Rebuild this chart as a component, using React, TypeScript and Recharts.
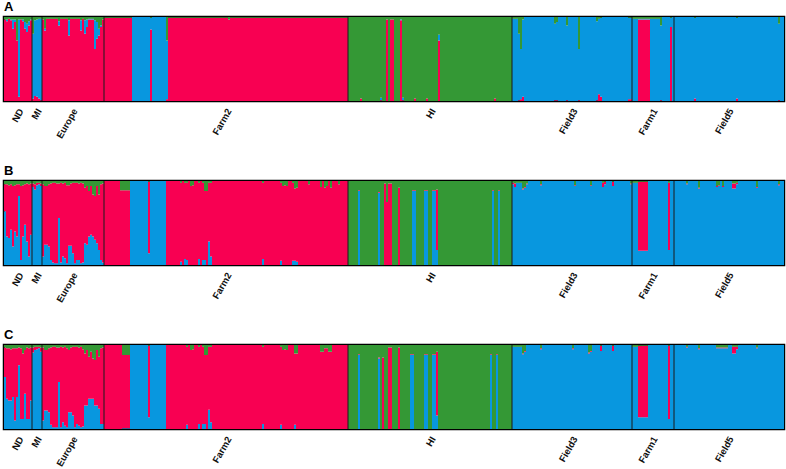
import React from "react";
import { BarChart, Bar, XAxis, YAxis, ReferenceLine, ReferenceArea } from "recharts";

// each run: [individuals, red, blue, green] ancestry proportions
type Run = [number, number, number, number];

const populations = ["ND", "MI", "Europe", "Farm2", "HI", "Field3", "Farm1", "Field5"];
const popSizes = [14, 5, 31, 122, 82, 60, 21, 55];
const panelLetters = ["A", "B", "C"];

const runsA: Run[][] = [
  // ND
  [[1, .97, 0, .03], [1, .95, .02, .03], [1, .98, 0, .02], [1, .96, .01, .03], [1, .86, .11, .03], [1, .94, .03, .03], [1, .72, 0, .28],
   [1, .05, .92, .03], [1, .97, 0, .03], [1, .95, .02, .03], [1, .86, .08, .06], [1, .82, .1, .08], [1, .9, .05, .05], [1, .96, .01, .03]],
  // MI
  [[1, .03, .77, .2], [1, .06, .9, .04], [1, .05, .92, .03], [1, .03, .95, .02], [1, .01, .97, .02]],
  // Europe
  [[1, .97, 0, .03], [1, .84, .02, .14], [6, .98, 0, .02], [1, .9, .05, .05], [4, .98, 0, .02], [1, .78, .18, .04], [5, .98, 0, .02],
   [1, .84, .12, .04], [1, .98, 0, .02], [1, .8, .16, .04], [1, .88, .09, .03], [3, .97, .01, .02], [1, .62, .34, .04], [1, .74, .2, .06],
   [1, .78, .08, .14], [1, .88, .02, .1], [1, .97, 0, .03]],
  // Farm2
  [[14, .99, 0, .01], [9, 0, 1, 0], [1, .85, .14, .01], [7, 0, 1, 0], [1, .02, .7, .28], [30, .99, 0, .01], [1, .97, 0, .03],
   [59, .99, 0, .01]],
  // HI
  [[6, 0, 0, 1], [1, .03, 0, .97], [9, 0, 0, 1], [1, .01, .03, .96], [2, 0, 0, 1], [1, .97, 0, .03], [1, 0, 0, 1],
   [2, .97, 0, .03], [3, 0, 0, 1], [1, .96, .01, .03], [1, .01, .03, .96], [5, 0, 0, 1], [1, .03, 0, .97], [5, 0, 0, 1],
   [1, .03, 0, .97], [5, 0, 0, 1], [1, .72, .07, .21], [27, 0, 0, 1], [1, .03, 0, .97], [8, 0, 0, 1]],
  // Field3
  [[3, 0, .98, .02], [1, .01, .79, .2], [1, .02, .6, .38], [1, .05, .92, .03], [15, 0, 1, 0], [1, .01, .91, .08], [1, .01, .93, .06],
   [4, 0, 1, 0], [1, .01, .89, .1], [5, 0, 1, 0], [1, .01, .61, .38], [8, 0, 1, 0], [1, .01, .94, .05], [1, .08, .9, .02],
   [1, .05, .94, .01], [13, 0, 1, 0], [1, .02, .97, .01], [1, .02, .97, .01]],
  // Farm1
  [[3, 0, .98, .02], [6, .97, .01, .02], [5, 0, .98, .02], [1, .01, .89, .1], [4, 0, 1, 0], [1, .88, .11, .01], [1, 0, 1, 0]],
  // Field5
  [[10, 0, 1, 0], [1, .03, .96, .01], [20, 0, 1, 0], [1, .03, .96, .01], [20, 0, 1, 0], [1, .01, .91, .08], [2, 0, 1, 0]],
];

const runsB: Run[][] = [
  // ND
  [[1, .32, .64, .04], [1, .62, .34, .04], [1, .63, .32, .05], [1, .54, .42, .04], [1, .72, .22, .06], [1, .55, .4, .05], [1, .62, .34, .04],
   [1, .14, .82, .04], [1, .88, .06, .06], [1, .61, .34, .05], [1, .48, .48, .04], [1, .69, .28, .03], [1, .86, .1, .04], [1, .61, .36, .03]],
  // MI
  [[1, .04, .93, .03], [1, .06, .9, .04], [1, .03, .95, .02], [1, .02, .96, .02], [1, .03, .94, .03]],
  // Europe
  [[1, .86, .1, .04], [1, .7, .24, .06], [1, .7, .24, .06], [1, .74, .22, .04], [1, .91, .06, .03], [1, .95, .03, .02], [1, .96, .02, .02],
   [1, .95, .02, .03], [1, .41, .56, .03], [1, .95, .03, .02], [1, .87, .1, .03], [1, .9, .08, .02], [1, .93, .02, .05], [1, .72, .23, .05],
   [1, .74, .23, .03], [1, .84, .14, .02], [1, .96, .02, .02], [1, .92, .06, .02], [1, .91, .06, .03], [1, .96, .02, .02], [1, .94, .03, .03],
   [1, .66, .26, .08], [1, .7, .24, .06], [1, .54, .34, .12], [1, .58, .36, .06], [1, .5, .34, .16], [1, .52, .3, .18], [1, .68, .26, .06],
   [1, .66, .18, .16], [1, .9, .06, .04], [1, .94, .03, .03]],
  // Farm2
  [[8, 1, 0, 0], [5, .89, 0, .11], [9, 0, 1, 0], [1, .85, .14, .01], [8, 0, 1, 0], [7, 1, 0, 0], [1, .94, .04, .02],
   [1, 1, 0, 0], [1, .91, .07, .02], [1, .92, .06, .02], [1, 1, 0, 0], [1, .94, 0, .06], [1, .95, 0, .05], [2, 1, 0, 0],
   [1, .91, .07, .02], [1, 1, 0, 0], [1, .92, .06, .02], [1, .82, .06, .12], [1, .88, 0, .12], [1, .7, .28, .02], [1, .88, .1, .02],
   [25, 1, 0, 0], [1, .91, .07, .02], [8, 1, 0, 0], [1, .93, .05, .02], [1, .94, 0, .06], [1, .95, 0, .05], [1, .94, 0, .06],
   [2, 1, 0, 0], [1, .93, .05, .02], [1, .86, .05, .09], [1, .88, .04, .08], [5, 1, 0, 0], [1, .96, 0, .04], [5, 1, 0, 0],
   [1, .93, 0, .07], [1, 1, 0, 0], [1, .92, 0, .08], [1, .94, 0, .06], [1, 1, 0, 0], [1, .92, 0, .08], [3, 1, 0, 0],
   [1, .96, 0, .04], [4, 1, 0, 0]],
  // HI
  [[5, 0, 0, 1], [1, .01, .88, .11], [9, 0, 0, 1], [1, .01, .86, .13], [2, 0, 0, 1], [1, .97, 0, .03], [1, .75, 0, .25],
   [2, .97, 0, .03], [3, 0, 0, 1], [1, .92, 0, .08], [6, 0, 0, 1], [2, .01, .88, .11], [4, 0, 0, 1], [2, .01, .88, .11],
   [2, 0, 0, 1], [2, .01, .88, .11], [1, .72, .18, .1], [27, 0, 0, 1], [1, .01, .88, .11], [2, 0, 0, 1], [1, .01, .88, .11],
   [6, 0, 0, 1]],
  // Field3
  [[1, .02, .96, .02], [1, .04, .93, .03], [3, 0, .98, .02], [1, .01, .9, .09], [1, .01, .92, .07], [1, .01, .96, .03], [6, 0, 1, 0],
   [1, .01, .95, .04], [16, 0, 1, 0], [1, .01, .94, .05], [7, 0, 1, 0], [1, .01, .94, .05], [5, 0, 1, 0], [1, .05, .93, .02],
   [1, .03, .96, .01], [3, 0, 1, 0], [1, .05, .94, .01], [8, 0, 1, 0], [1, .01, .96, .03]],
  // Farm1
  [[3, 0, .98, .02], [5, .82, .17, .01], [10, 0, 1, 0], [1, .8, .18, .02], [2, 0, 1, 0]],
  // Field5
  [[6, 0, 1, 0], [1, .01, .96, .03], [5, 0, 1, 0], [1, .01, .91, .08], [8, 0, 1, 0], [1, .01, .93, .06], [1, .01, .94, .05],
   [1, 0, 1, 0], [1, .01, .93, .06], [2, 0, 1, 0], [2, 0, 1, 0], [2, .06, .91, .03], [1, .02, .96, .02], [9, 0, 1, 0],
   [1, .01, .92, .07], [10, 0, 1, 0], [1, .01, .95, .04], [2, 0, 1, 0]],
];

const runsC: Run[][] = [
  // ND
  [[1, .35, .62, .03], [1, .6, .36, .04], [1, .62, .34, .04], [1, .61, .34, .05], [1, .58, .38, .04], [1, .86, .1, .04], [1, .58, .38, .04],
   [1, .21, .76, .03], [1, .84, .12, .04], [1, .78, .12, .1], [1, .52, .42, .06], [1, .85, .12, .03], [1, .84, .12, .04], [1, .63, .34, .03]],
  // MI
  [[1, .06, .91, .03], [1, .04, .94, .02], [1, .03, .95, .02], [1, .02, .96, .02], [1, .05, .92, .03]],
  // Europe
  [[1, .87, .1, .03], [1, .72, .22, .06], [1, .72, .22, .06], [1, .76, .2, .04], [1, .92, .05, .03], [1, .96, .02, .02], [1, .96, .02, .02],
   [1, .95, .02, .03], [1, .41, .56, .03], [1, .96, .02, .02], [1, .89, .08, .03], [1, .94, .04, .02], [1, .94, .02, .04], [1, .74, .2, .06],
   [1, .77, .2, .03], [1, .82, .16, .02], [1, .96, .02, .02], [1, .92, .06, .02], [1, .93, .04, .03], [1, .96, .02, .02], [1, .92, .03, .05],
   [1, .62, .28, .1], [1, .66, .28, .06], [1, .5, .36, .14], [1, .56, .36, .08], [1, .48, .36, .16], [1, .54, .28, .18], [1, .66, .28, .06],
   [1, .62, .24, .14], [1, .9, .06, .04], [1, .91, .06, .03]],
  // Farm2
  [[9, 1, 0, 0], [4, .87, .01, .12], [9, 0, 1, 0], [1, .85, .14, .01], [8, 0, 1, 0], [10, 1, 0, 0], [1, .93, .05, .02],
   [1, 1, 0, 0], [1, .94, 0, .06], [1, .95, 0, .05], [2, 1, 0, 0], [1, .92, .06, .02], [1, 1, 0, 0], [1, .92, .06, .02],
   [1, .82, .06, .12], [1, .88, 0, .12], [1, .75, .23, .02], [1, .9, .08, .02], [25, 1, 0, 0], [1, .92, .06, .02], [8, 1, 0, 0],
   [1, .93, .05, .02], [1, .94, 0, .06], [1, .95, 0, .05], [1, .94, 0, .06], [3, 1, 0, 0], [1, .85, .05, .1], [1, .9, 0, .1],
   [11, 1, 0, 0], [1, .92, 0, .08], [1, .92, 0, .08], [1, .96, 0, .04], [1, .96, 0, .04], [1, .92, 0, .08], [1, .92, 0, .08],
   [8, 1, 0, 0]],
  // HI
  [[5, 0, 0, 1], [1, .01, .88, .11], [9, 0, 0, 1], [1, .01, .84, .15], [1, 0, 0, 1], [1, .85, 0, .15], [2, 0, 0, 1],
   [2, .97, 0, .03], [3, 0, 0, 1], [1, .97, 0, .03], [5, 0, 0, 1], [2, .01, .88, .11], [5, 0, 0, 1], [2, .01, .88, .11],
   [2, 0, 0, 1], [2, .01, .88, .11], [1, .76, .16, .08], [26, 0, 0, 1], [1, .01, .88, .11], [2, 0, 0, 1], [1, .01, .88, .11],
   [7, 0, 0, 1]],
  // Field3
  [[5, 0, .98, .02], [1, .01, .89, .1], [1, .01, .92, .07], [7, 0, 1, 0], [1, .01, .95, .04], [15, 0, 1, 0], [1, .01, .95, .04],
   [7, 0, 1, 0], [1, .01, .9, .09], [1, .01, .92, .07], [4, 0, 1, 0], [1, .06, .93, .01], [5, 0, 1, 0], [1, .06, .93, .01],
   [9, 0, 1, 0]],
  // Farm1
  [[3, 0, .98, .02], [5, .85, .14, .01], [10, 0, 1, 0], [1, .87, .12, .01], [2, 0, 1, 0]],
  // Field5
  [[6, 0, 1, 0], [1, .01, .97, .02], [5, 0, 1, 0], [1, .01, .95, .04], [8, 0, 1, 0], [6, .01, .96, .03], [2, 0, 1, 0],
   [2, .08, .9, .02], [1, .03, .95, .02], [9, 0, 1, 0], [1, .01, .96, .03], [13, 0, 1, 0]],
];

const RED = "#F80052";
const BLUE = "#0897DF";
const GREEN = "#349835";

type Row = { id: number; red: number; blue: number; green: number };

function expand(runs: Run[][]): Row[] {
  const rows: Row[] = [];
  runs.forEach((pop) =>
    pop.forEach(([n, red, blue, green]) => {
      for (let i = 0; i < n; i++) rows.push({ id: rows.length, red, blue, green });
    })
  );
  return rows;
}

const popStarts = popSizes.map((_, i) => popSizes.slice(0, i).reduce((a, b) => a + b, 0));
const tickIds = popStarts.map((s, i) => s + Math.floor(popSizes[i] / 2));
const labelAt = new Map(tickIds.map((id, i) => [id, populations[i]]));

const PopTick = (props: any) => {
  const { x, y, payload } = props;
  const tx = x + 5;
  const ty = y + 2;
  return (
    <text
      x={tx}
      y={ty}
      transform={`rotate(-60, ${tx}, ${ty})`}
      textAnchor="end"
      fontSize={9.5}
      fontWeight="bold"
      fontFamily="'Liberation Sans', Arial, sans-serif"
      fill="#111"
    >
      {labelAt.get(payload.value)}
    </text>
  );
};

const panels = [
  { runs: runsA, order: ["red", "blue", "green"], top: 0 },
  { runs: runsB, order: ["blue", "red", "green"], top: 164 },
  { runs: runsC, order: ["blue", "red", "green"], top: 328 },
];

const colorOf: Record<string, string> = { red: RED, blue: BLUE, green: GREEN };

function Panel({ runs, order, top, letter }: { runs: Run[][]; order: string[]; top: number; letter: string }) {
  const data = expand(runs);
  return (
    <div style={{ position: "absolute", left: 0, top, width: 786, height: 152 }}>
      <div
        style={{
          position: "absolute",
          left: 4,
          top: 0,
          fontFamily: "'Liberation Sans', Arial, sans-serif",
          fontWeight: "bold",
          fontSize: 13,
          lineHeight: "14px",
        }}
      >
        {letter}
      </div>
      <BarChart
        width={786}
        height={152}
        data={data}
        margin={{ top: 17, right: 2, left: 4, bottom: 0 }}
        barCategoryGap={0}
        barGap={0}
      >
        <XAxis
          dataKey="id"
          ticks={tickIds}
          interval={0}
          axisLine={false}
          tickLine={false}
          height={51}
          tick={PopTick}
        />
        <YAxis hide domain={[0, 1]} allowDataOverflow />
        {order.map((k) => (
          <Bar key={k} dataKey={k} stackId="q" fill={colorOf[k]} isAnimationActive={false} />
        ))}
        {popStarts.slice(1).map((s) => (
          <ReferenceLine key={s} x={s} position="start" stroke="#1a1a1a" strokeWidth={1} />
        ))}
        <ReferenceArea y1={0} y2={1} fill="none" stroke="#000" strokeWidth={2.5} ifOverflow="visible" />
      </BarChart>
    </div>
  );
}

export default function App() {
  return (
    <div style={{ position: "absolute", left: 0, top: 0, width: 786, height: 469, background: "#fff", overflow: "hidden" }}>
      {panels.map((p, i) => (
        <Panel key={i} runs={p.runs} order={p.order} top={p.top} letter={panelLetters[i]} />
      ))}
    </div>
  );
}
